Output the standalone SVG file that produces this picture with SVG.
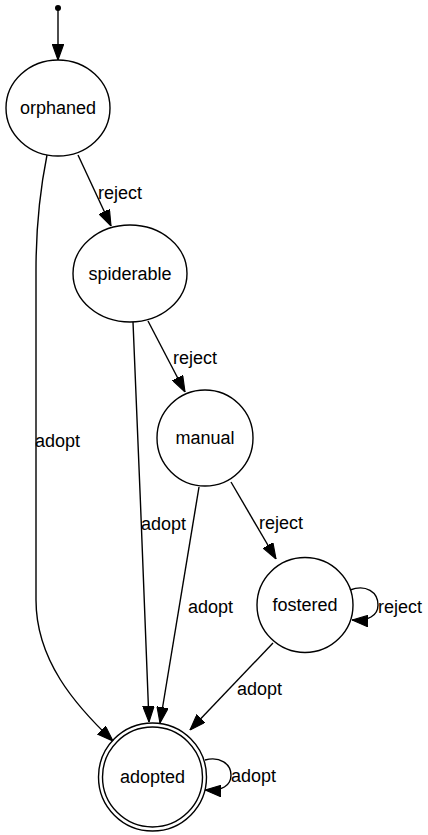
<svg xmlns="http://www.w3.org/2000/svg" width="428" height="835" viewBox="0 0 428 835">
<style>
.n{fill:none;stroke:#000;stroke-width:1.4}
.e{fill:none;stroke:#000;stroke-width:1.4}
text{font-family:"Liberation Sans",Arial,sans-serif;font-size:18px;fill:#000}
.c{text-anchor:middle}
</style>
<defs>
<marker id="a" markerUnits="userSpaceOnUse" markerWidth="16" markerHeight="12" viewBox="0 0 14 10" refX="14" refY="5" orient="auto">
<path d="M0,0 L14,5 L0,10 Z" fill="#000" stroke="#000" stroke-width="1"/>
</marker>
</defs>
<rect width="428" height="835" fill="#fff"/>
<g id="edges">
<path class="e" d="M58,8 L58,60" marker-end="url(#a)"/>
<path class="e" d="M78,155 L111,226" marker-end="url(#a)"/>
<text x="98" y="199">reject</text>
<path class="e" d="M47,155 C40,190 36,230 36,270 L36,600 C36,660 75,705 113,741" marker-end="url(#a)"/>
<text x="35" y="447">adopt</text>
<path class="e" d="M148,321 L185,392" marker-end="url(#a)"/>
<text x="173" y="364">reject</text>
<path class="e" d="M133,322 C138,450 145,600 149,722" marker-end="url(#a)"/>
<text x="141" y="530">adopt</text>
<path class="e" d="M199,487 L160,723" marker-end="url(#a)"/>
<text x="188" y="613">adopt</text>
<path class="e" d="M231,482 L276,559" marker-end="url(#a)"/>
<text x="259" y="529">reject</text>
<path class="e" d="M350,590 C366,584 378,592 378,605 C378,616 368,621 352,620" marker-end="url(#a)"/>
<text x="378" y="613">reject</text>
<path class="e" d="M273,643 L190,730" marker-end="url(#a)"/>
<text x="237" y="695">adopt</text>
<path class="e" d="M205,760 C220,756 231,764 231,775 C231,786 222,791 205,790" marker-end="url(#a)"/>
<text x="231" y="782">adopt</text>
</g>
<g id="start"><circle cx="58" cy="8" r="3" fill="#000"/></g>
<g id="orphaned"><ellipse class="n" cx="58" cy="108" rx="52" ry="48"/><text class="c" x="58" y="114">orphaned</text></g>
<g id="spiderable"><ellipse class="n" cx="130" cy="273.5" rx="57" ry="48.5"/><text class="c" x="130" y="280">spiderable</text></g>
<g id="manual"><ellipse class="n" cx="205" cy="438" rx="48" ry="48"/><text class="c" x="205" y="444">manual</text></g>
<g id="fostered"><ellipse class="n" cx="305" cy="605" rx="48" ry="47.5"/><text class="c" x="305" y="611">fostered</text></g>
<g id="adopted"><circle class="n" cx="152.5" cy="777" r="54"/><circle class="n" cx="152.5" cy="777" r="50"/><text class="c" x="152.5" y="783">adopted</text></g>
</svg>
